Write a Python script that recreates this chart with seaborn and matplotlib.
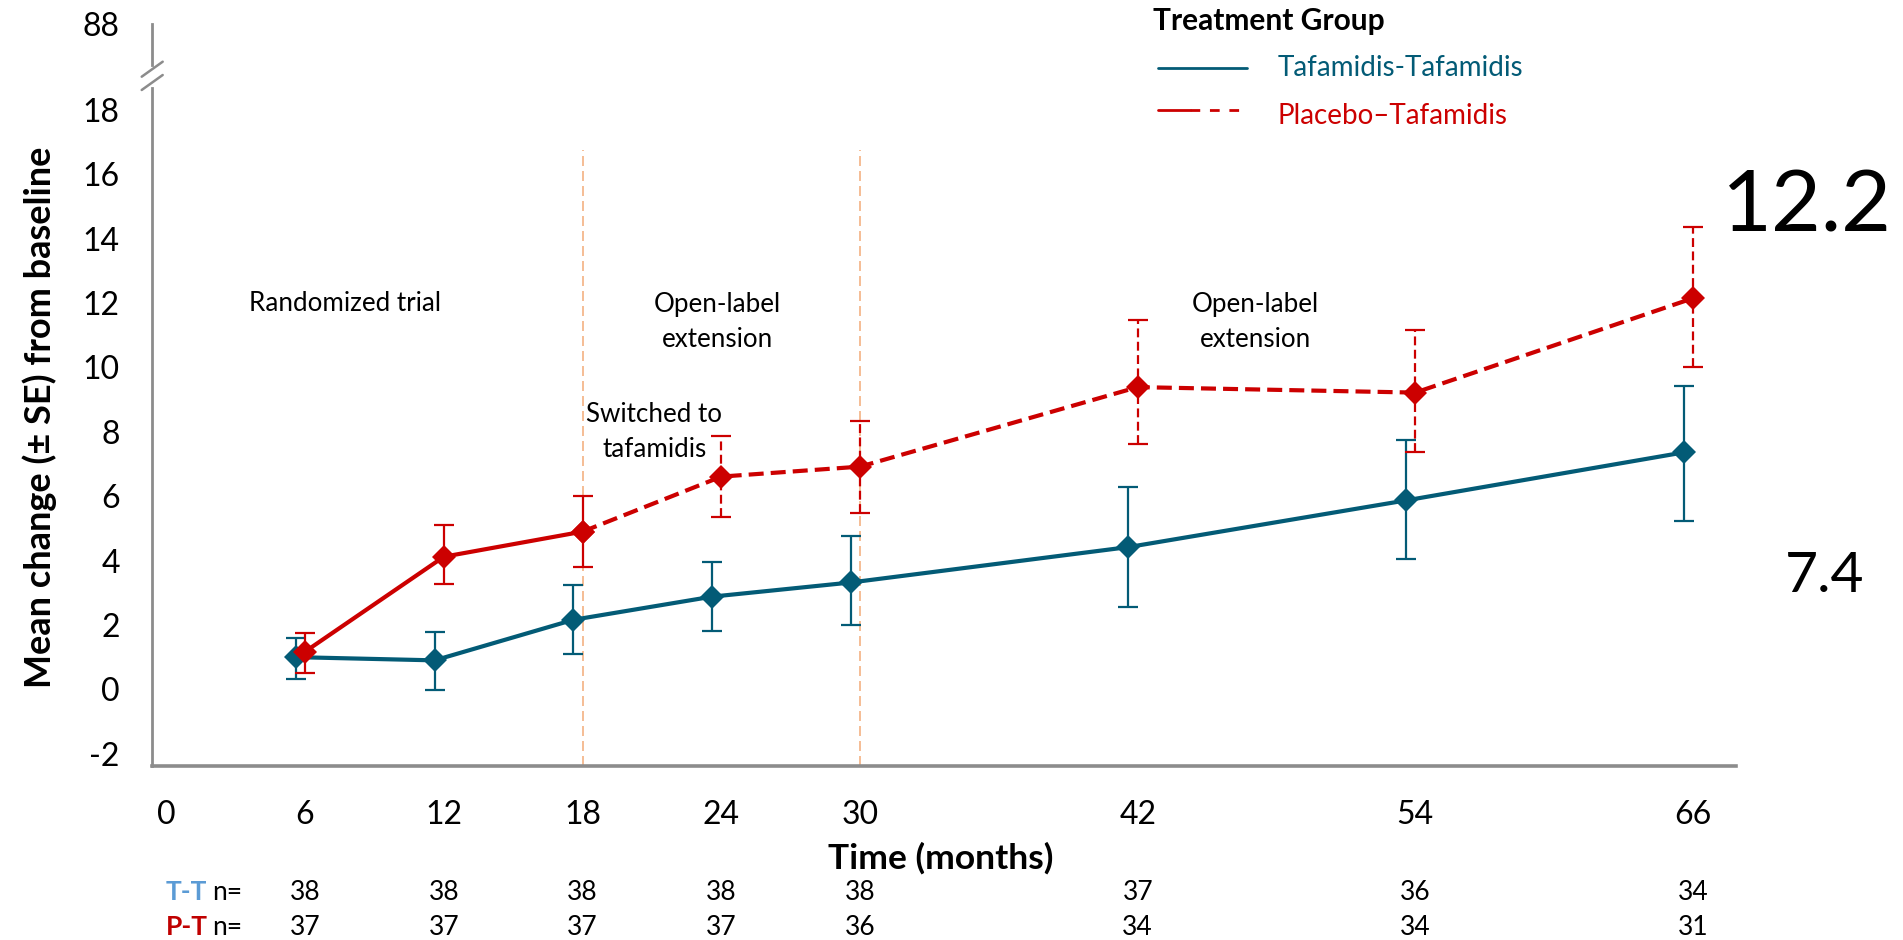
import numpy as np
import pandas as pd
import matplotlib
matplotlib.use("Agg")
import matplotlib.pyplot as plt
from matplotlib.lines import Line2D
import matplotlib.transforms as mtrans
import seaborn as sns

# ---------------- data ----------------
months = [6, 12, 18, 24, 30, 42, 54, 66]
tt_mean = [1.0, 0.9, 2.16, 2.88, 3.32, 4.42, 5.87, 7.36]
tt_upper = [1.59, 1.77, 3.24, 3.97, 4.77, 6.30, 7.75, 9.43]
tt_lower = [0.32, -0.02, 1.10, 1.82, 2.00, 2.55, 4.04, 5.23]
pt_mean = [1.17, 4.12, 4.90, 6.61, 6.92, 9.39, 9.22, 12.15]
pt_upper = [1.76, 5.11, 6.01, 7.86, 8.34, 11.46, 11.17, 14.38]
pt_lower = [0.50, 3.27, 3.81, 5.35, 5.47, 7.62, 7.37, 10.00]
n_tt = [38, 38, 38, 38, 38, 37, 36, 34]
n_pt = [37, 37, 37, 37, 36, 34, 34, 31]
xticks = [0, 6, 12, 18, 24, 30, 42, 54, 66]
yticks = [-2, 0, 2, 4, 6, 8, 10, 12, 14, 16, 18]
switch_months = [18, 30]
final_labels = ["12.2", "7.4"]

# ---------------- style ----------------
sns.set_theme(style="white")
plt.rcParams["font.family"] = ["Lato", "DejaVu Sans"]
plt.rcParams["axes.unicode_minus"] = False
plt.rcParams["text.color"] = "black"

W, H = 1903, 940
fig = plt.figure(figsize=(W / 100, H / 100), dpi=100)
fig.patch.set_facecolor("white")


def fx(px):
    return px / W


def fy(py):
    return 1 - py / H


TEAL = "#035B76"
RED = "#CC0000"
GRAY = "#8C8C8C"
ORANGE = "#F4B183"

ax = fig.add_axes([fx(151.7), fy(765.7), (1735.6 - 151.7) / W, (765.7 - 88) / H])
ax.set_facecolor("white")
ax.set_xlim(-0.63, 67.85)
ax.set_ylim(-2.373, 18.684)

df_tt = pd.DataFrame({"month": months, "mean": tt_mean, "lo": tt_lower, "hi": tt_upper})
df_pt = pd.DataFrame({"month": months, "mean": pt_mean, "lo": pt_lower, "hi": pt_upper})
TT_DODGE = -0.4
PT_DODGE = 0.0
df_tt["xpos"] = df_tt["month"] + TT_DODGE
df_pt["xpos"] = df_pt["month"] + PT_DODGE

# vertical phase lines
ax.vlines(switch_months, -2.373, 16.77, colors=ORANGE, lw=1.2,
          linestyles=[(0, (6, 3))], zorder=1)

# error bars
ax.errorbar(df_tt["xpos"], df_tt["mean"],
            yerr=[df_tt["mean"] - df_tt["lo"], df_tt["hi"] - df_tt["mean"]],
            fmt="none", ecolor=TEAL, elinewidth=1.6, capsize=7.5, capthick=1.6, zorder=3)

d1 = df_pt[df_pt["month"] <= 18]
d2 = df_pt[df_pt["month"] > 18]
ax.errorbar(d1["xpos"], d1["mean"], yerr=[d1["mean"] - d1["lo"], d1["hi"] - d1["mean"]],
            fmt="none", ecolor=RED, elinewidth=1.6, capsize=7.5, capthick=1.6, zorder=3)
eb2 = ax.errorbar(d2["xpos"], d2["mean"], yerr=[d2["mean"] - d2["lo"], d2["hi"] - d2["mean"]],
                  fmt="none", ecolor=RED, elinewidth=1.6, capsize=7.5, capthick=1.6, zorder=3)
for coll in eb2[2]:
    coll.set_linestyle((0, (4, 2)))

# lines with markers (seaborn)
sns.lineplot(data=df_tt, x="xpos", y="mean", ax=ax, color=TEAL, lw=3, marker="D",
             markersize=12.5, markeredgewidth=0, sort=False, zorder=4)
sns.lineplot(data=df_pt[df_pt["month"] <= 18], x="xpos", y="mean", ax=ax, color=RED, lw=3,
             marker="D", markersize=12.5, markeredgewidth=0, sort=False, zorder=4)
sns.lineplot(data=df_pt[df_pt["month"] >= 18], x="xpos", y="mean", ax=ax, color=RED, lw=3,
             marker="D", markersize=12.5, markeredgewidth=0, sort=False, zorder=4)
ax.lines[-1].set_dashes((3.6, 1.7))

# axes styling
for s in ["top", "right"]:
    ax.spines[s].set_visible(False)
for s in ["left", "bottom"]:
    ax.spines[s].set_color(GRAY)
    ax.spines[s].set_linewidth(2)
ax.spines["bottom"].set_linewidth(2.6)
ax.set_xticks(xticks)
ax.set_xticklabels([str(v) for v in xticks])
ax.set_yticks(yticks)
ax.set_yticklabels([str(v) for v in yticks])
ax.tick_params(axis="both", direction="out", length=10, width=1.5, color=GRAY,
               labelsize=23, labelcolor="black")
ax.tick_params(axis="x", pad=15)
ax.tick_params(axis="y", pad=13)
ax.set_xlabel("")
ax.set_ylabel("")
ax.grid(False)

# top broken axis piece with 88
axb = fig.add_axes([fx(151.7), fy(65), 0.01, (65 - 24) / H])
axb.set_facecolor("none")
axb.set_ylim(88 - 4.1, 88)
axb.set_yticks([88])
axb.set_yticklabels(["88"])
axb.set_xticks([])
for s in ["top", "right", "bottom"]:
    axb.spines[s].set_visible(False)
axb.spines["left"].set_color(GRAY)
axb.spines["left"].set_linewidth(2)
axb.tick_params(axis="y", direction="out", length=10, width=1.5, color=GRAY,
                labelsize=23, labelcolor="black", pad=13)
for (x0, y0, x1, y1) in [(141.7, 76.7, 162.7, 61.7), (141.7, 90, 162.7, 75)]:
    fig.add_artist(Line2D([fx(x0), fx(x1)], [fy(y0), fy(y1)], color=GRAY, lw=1.8,
                          transform=fig.transFigure))

# phase annotations
ax.text(7.73, 12.0, "Randomized trial", ha="center", va="center", fontsize=18.7)
ax.text(23.84, 11.4, "Open-label\nextension", ha="center", va="center", fontsize=18.7,
        linespacing=1.5)
ax.text(47.1, 11.4, "Open-label\nextension", ha="center", va="center", fontsize=18.7,
        linespacing=1.5)
ax.text(21.1, 8.0, "Switched to\ntafamidis", ha="center", va="center", fontsize=18.7,
        linespacing=1.5)

# final values
fig.text(fx(1807), fy(232), final_labels[0], ha="center", va="baseline", fontsize=62)
fig.text(fx(1825), fy(592), final_labels[1], ha="center", va="baseline", fontsize=41)

# axis labels
fig.text(fx(941), fy(869), "Time (months)", ha="center", va="baseline", fontsize=25.5,
         fontweight="bold")
fig.text(fx(40), fy(417), "Mean change (± SE) from baseline", ha="center", va="center",
         rotation=90, fontsize=26, fontweight="bold")

# legend (manual)
fig.text(fx(1153), fy(30), "Treatment Group", ha="left", va="baseline", fontsize=21.5,
         fontweight="bold")
fig.add_artist(Line2D([fx(1158), fx(1247)], [fy(68), fy(68)], color=TEAL, lw=2,
                      transform=fig.transFigure))
fig.add_artist(Line2D([fx(1158), fx(1190)], [fy(110), fy(110)], color=RED, lw=2,
                      transform=fig.transFigure))
fig.add_artist(Line2D([fx(1190), fx(1247)], [fy(110), fy(110)], color=RED, lw=2,
                      dashes=(3.5, 3.5), transform=fig.transFigure))
fig.text(fx(1278), fy(76), "Tafamidis-Tafamidis", ha="left", va="baseline", fontsize=20,
         color=TEAL)
fig.text(fx(1278), fy(124), "Placebo\u2013Tafamidis", ha="left", va="baseline", fontsize=20,
         color=RED)

# n at risk table
blend = mtrans.blended_transform_factory(ax.transData, fig.transFigure)
fig.text(fx(166), fy(900), "T-T", ha="left", va="baseline", fontsize=19, fontweight="bold",
         color="#5B9BD5")
fig.text(fx(212), fy(900), "n=", ha="left", va="baseline", fontsize=19)
fig.text(fx(166), fy(935), "P-T", ha="left", va="baseline", fontsize=19, fontweight="bold",
         color="#C00000")
fig.text(fx(212), fy(935), "n=", ha="left", va="baseline", fontsize=19)
for m, a, b in zip(months, n_tt, n_pt):
    ax.text(m, fy(900), str(a), transform=blend, ha="center", va="baseline", fontsize=19,
            clip_on=False)
    ax.text(m, fy(935), str(b), transform=blend, ha="center", va="baseline", fontsize=19,
            clip_on=False)

fig.savefig("out.png", dpi=100, facecolor="white")
